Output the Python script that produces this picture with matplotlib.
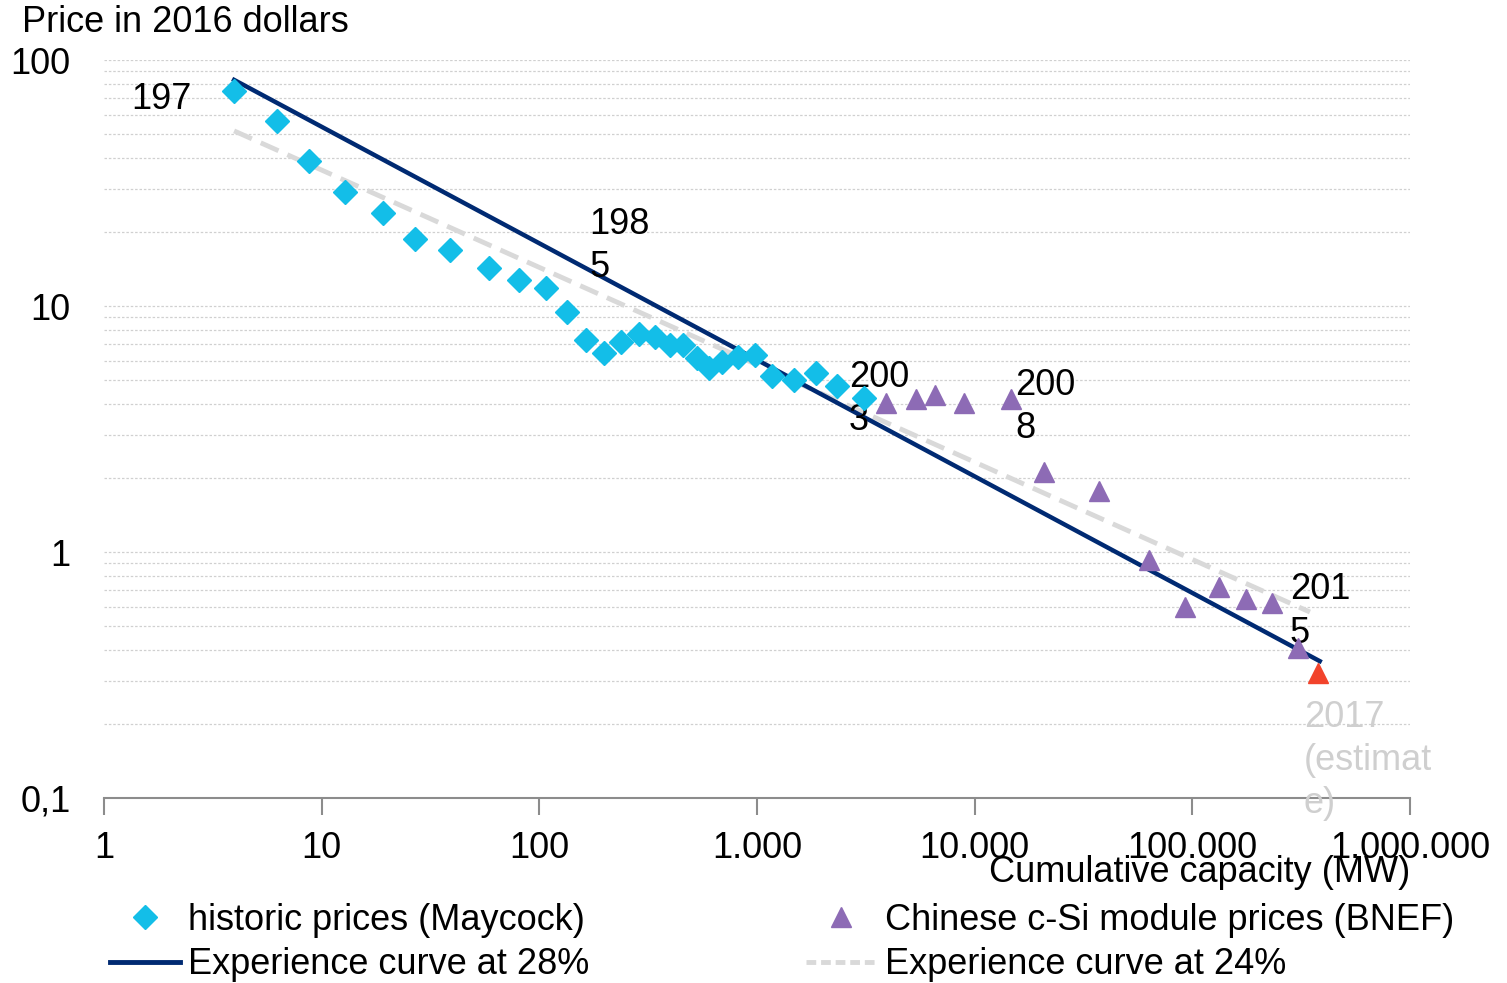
import matplotlib
matplotlib.use("Agg")
import matplotlib.pyplot as plt
from matplotlib.lines import Line2D
import numpy as np

plt.rcParams['font.family'] = ['Liberation Sans', 'DejaVu Sans']

# historic prices (Maycock): cumulative MW, price in 2016 $
maycock_x = [3.96, 6.23, 8.74, 12.8, 19.1, 26.8, 38.8, 58.7, 80.6, 107, 134, 164, 198,
             237, 287, 340, 398, 457, 530, 601, 690, 817, 977, 1170, 1478, 1865, 2330, 3100]
maycock_y = [74.8, 56.5, 38.9, 29.1, 23.9, 18.7, 16.9, 14.3, 12.8, 11.8, 9.46, 7.28, 6.44,
             7.14, 7.69, 7.48, 6.94, 6.94, 6.15, 5.60, 5.92, 6.20, 6.32, 5.19, 5.00, 5.34, 4.73, 4.23]

# Chinese c-Si module prices (BNEF)
bnef_x = [3910, 5370, 6560, 8920, 14700, 20800, 37200, 63100, 92400, 132000, 176000, 232000, 305000]
bnef_y = [4.03, 4.19, 4.35, 4.03, 4.19, 2.11, 1.77, 0.927, 0.597, 0.721, 0.644, 0.621, 0.407]

# 2017 estimate
est_x = [377000]
est_y = [0.322]

# experience curves (end points)
curve28_x = [3.96, 385000]
curve28_y = [83.0, 0.36]
curve24_x = [3.96, 347000]
curve24_y = [51.5, 0.57]

xticks = [1, 10, 100, 1000, 10000, 100000, 1000000]
xticklabels = ["1", "10", "100", "1.000", "10.000", "100.000", "1.000.000"]
yticks = [0.1, 1, 10, 100]
yticklabels = ["0,1", "1", "10", "100"]

c_cyan = "#13BEE8"
c_purple = "#8D6BB5"
c_red = "#F2432B"
c_navy = "#002A72"
c_gray = "#D9D9D9"

fs = 26

fig = plt.figure(figsize=(15.07, 9.83), dpi=100)
ax = fig.add_axes([104 / 1507, 1 - 798 / 983, (1410 - 104) / 1507, (798 - 60) / 983])
ax.set_xscale("log")
ax.set_yscale("log")
ax.set_xlim(1, 1e6)
ax.set_ylim(0.1, 100)

# gridlines at every major and minor y value
for dec in [0.1, 1, 10]:
    for m in range(1, 10):
        v = dec * m
        if v > 0.1:
            ax.axhline(v, color="#D0D0D0", lw=0.9, ls=(0, (2, 1.5)), zorder=0)
ax.axhline(100, color="#D0D0D0", lw=0.9, ls=(0, (2, 1.5)), zorder=0)

ax.plot(curve24_x, curve24_y, color=c_gray, lw=3.5, ls=(0, (4, 2)), zorder=2)
ax.plot(curve28_x, curve28_y, color=c_navy, lw=3.2, zorder=3)
ax.plot(maycock_x, maycock_y, ls="none", marker="D", ms=12, color=c_cyan, mec=c_cyan, zorder=4)
ax.plot(bnef_x, bnef_y, ls="none", marker="^", ms=15, color=c_purple, mec=c_purple, zorder=4)
ax.plot(est_x, est_y, ls="none", marker="^", ms=15, color=c_red, mec=c_red, zorder=4)

# year annotations
ls_ = 1.3
ax.text(2.52, 68.8, "197", fontsize=fs, ha="right", va="center")
ax.text(170, 17.6, "198\n5", fontsize=fs, ha="left", va="center", linespacing=ls_)
ax.text(2650, 4.2, "200\n3", fontsize=fs, ha="left", va="center", linespacing=ls_)
ax.text(15400, 3.9, "200\n8", fontsize=fs, ha="left", va="center", linespacing=ls_)
ax.text(280000, 0.573, "201\n5", fontsize=fs, ha="left", va="center", linespacing=ls_)
ax.text(325000, 0.25, "2017\n(estimat\ne)", fontsize=fs, ha="left", va="top",
        color="#CFCFCF", linespacing=ls_)

for s in ["top", "right", "left"]:
    ax.spines[s].set_visible(False)
ax.spines["bottom"].set_color("#8C8C8C")
ax.spines["bottom"].set_linewidth(1.5)

ax.set_xticks(xticks)
ax.set_xticklabels(xticklabels, fontsize=fs)
ax.xaxis.set_minor_locator(matplotlib.ticker.NullLocator())
ax.tick_params(axis="x", which="major", direction="out", length=12, width=1.5,
               color="#8C8C8C", pad=12)
ax.set_yticks(yticks)
ax.set_yticklabels(yticklabels, fontsize=fs)
ax.yaxis.set_minor_locator(matplotlib.ticker.NullLocator())
ax.tick_params(axis="y", which="major", length=0, pad=24)

fig.text(22 / 1507, 1 - 22 / 983, "Price in 2016 dollars", fontsize=fs, ha="left", va="center")
fig.text(1410 / 1507, 1 - 873 / 983, "Cumulative capacity (MW)", fontsize=fs, ha="right", va="center")

handles = [
    Line2D([], [], ls="none", marker="D", ms=12, color=c_cyan),
    Line2D([], [], color=c_navy, lw=3.5),
    Line2D([], [], ls="none", marker="^", ms=15, color=c_purple),
    Line2D([], [], color=c_gray, lw=3.5, ls=(0, (2, 1))),
]
labels = ["historic prices (Maycock)", "Experience curve at 28%",
          "Chinese c-Si module prices (BNEF)", "Experience curve at 24%"]
fig.legend(handles, labels, ncol=2, loc="upper left", bbox_to_anchor=(110 / 1507, 1 - 903 / 983),
           frameon=False, fontsize=fs, handlelength=1.95, handletextpad=0.22,
           columnspacing=6.0, labelspacing=0.26, borderpad=0, borderaxespad=0)

fig.savefig("out.png", dpi=100)
